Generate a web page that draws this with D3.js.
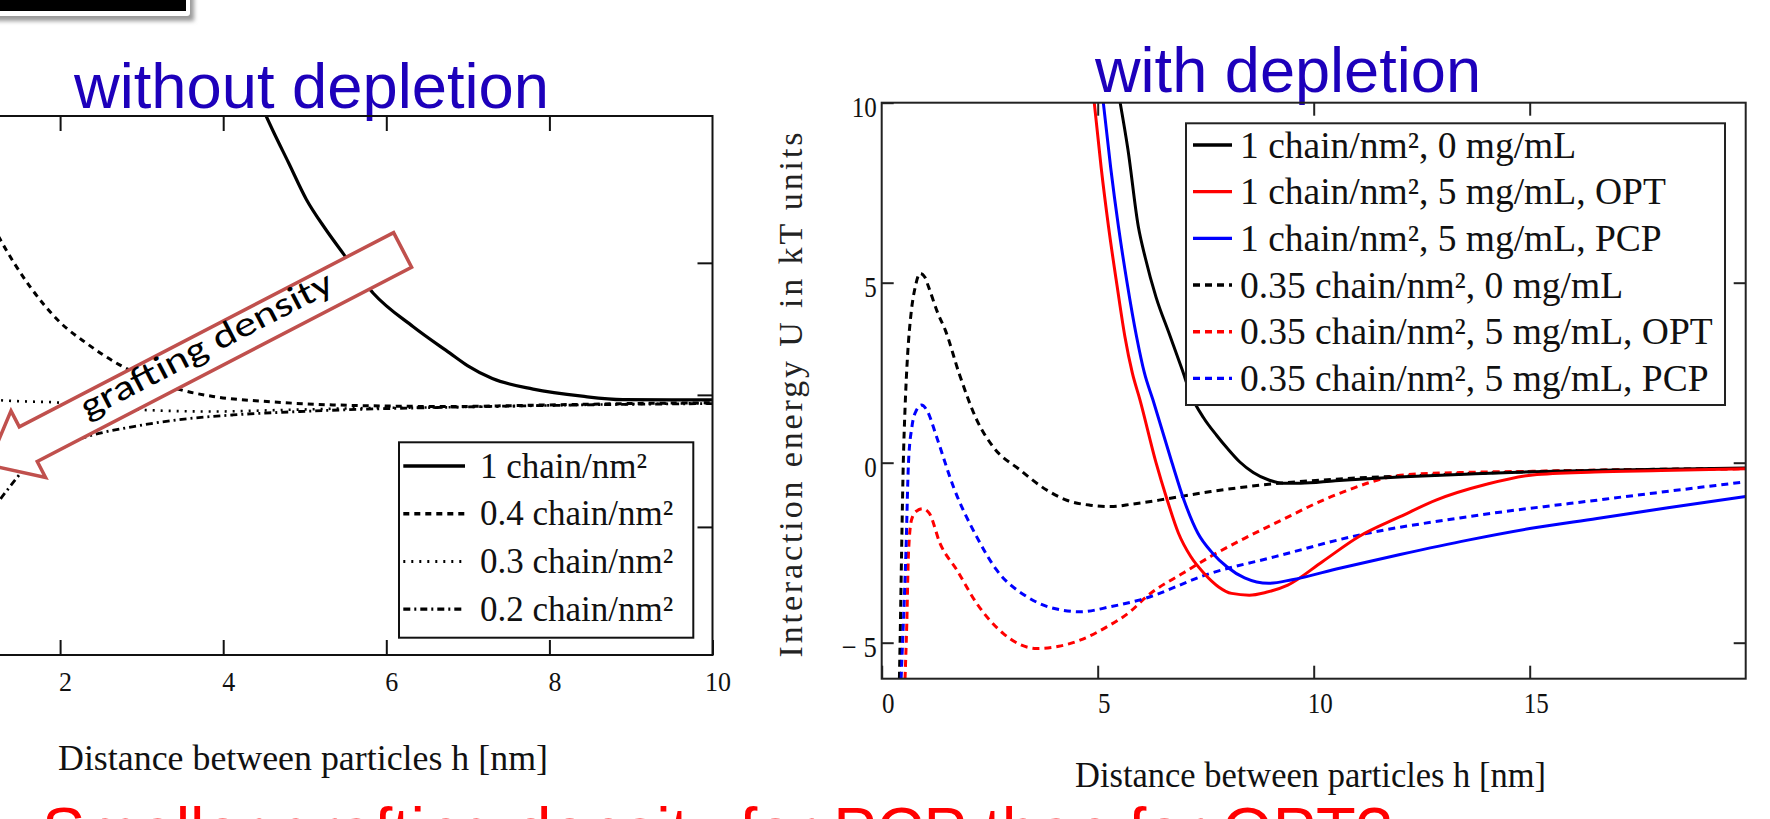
<!DOCTYPE html>
<html><head><meta charset="utf-8">
<script src="https://cdn.jsdelivr.net/npm/d3@7"></script>
<style>
body{margin:0;background:#fff;overflow:hidden}
svg{display:block}
</style>
</head><body>
<svg id="c" width="1770" height="819"></svg>
<script>
// ---------------- DATA ----------------
// Left chart: without depletion (x: distance h [nm], y: U in kT)
const leftNames = ["1 chain/nm²", "0.4 chain/nm²", "0.3 chain/nm²", "0.2 chain/nm²"];
const left_1 = [[4.52,10.6],[4.61,10],[4.8,8.8],[5.02,7.4],[5.25,6.3],[5.47,5.36],[5.84,3.85],[6.33,2.58],[6.78,1.58],[7.0,1.1],[7.3,0.62],[7.8,0.22],[8.4,-0.05],[8.9,-0.18],[9.5,-0.19],[10,-0.19]];
const left_04 = [[0.6,10.6],[0.8,8.9],[1.0,7.5],[1.263,5.9],[1.631,4.1],[1.999,2.75],[2.326,1.95],[2.694,1.2],[3.102,0.6],[3.47,0.2],[3.875,-0.06],[4.537,-0.25],[5.346,-0.38],[6.744,-0.44],[8.0,-0.38],[9.2,-0.32],[10,-0.3]];
const left_03 = [[0.8,0.8],[1.0,0.2],[1.263,-0.2],[1.6,-0.25],[1.917,-0.28],[2.5,-0.45],[3.02,-0.57],[3.88,-0.63],[4.74,-0.57],[5.76,-0.5],[6.74,-0.47],[8.0,-0.4],[9.2,-0.34],[10,-0.31]];
const left_02 = [[0.8,-6.8],[1.0,-5.3],[1.263,-3.97],[1.386,-3.47],[1.59,-2.71],[1.794,-2.21],[2.08,-1.83],[2.49,-1.45],[2.9,-1.2],[3.43,-0.95],[4.12,-0.76],[4.94,-0.63],[5.76,-0.54],[6.74,-0.47],[8,-0.4],[9.2,-0.35],[10,-0.33]];
const leftXTicks = [2,4,6,8,10];
const leftYTicks = [-5,0,5];

// Right chart: with depletion
const rightNames = ["1 chain/nm², 0 mg/mL","1 chain/nm², 5 mg/mL, OPT","1 chain/nm², 5 mg/mL, PCP",
                    "0.35 chain/nm², 0 mg/mL","0.35 chain/nm², 5 mg/mL, OPT","0.35 chain/nm², 5 mg/mL, PCP"];
const r_1_0 = [[5.52,10],[5.7,8.7],[5.94,6.56],[6.1,5.7],[6.35,4.6],[6.65,3.6],[6.95,2.6],[7.17,1.85],[7.45,1.25],[7.76,0.75],[8.0,0.4],[8.29,0.02],[8.6,-0.27],[8.96,-0.48],[9.3,-0.57],[9.7,-0.57],[10.5,-0.5],[12.1,-0.39],[13.5,-0.32],[15.07,-0.25],[17,-0.2],[20,-0.15]];
const r_1_opt = [[4.92,10],[5.08,8.2],[5.25,6.56],[5.45,4.9],[5.63,3.5],[5.8,2.5],[5.98,1.74],[6.35,0],[6.6,-1.0],[6.87,-1.96],[7.15,-2.6],[7.46,-3.07],[7.8,-3.45],[8.1,-3.63],[8.51,-3.68],[8.9,-3.6],[9.4,-3.4],[10.2,-2.75],[11.05,-2.05],[12.0,-1.5],[12.83,-1.04],[14,-0.6],[15.07,-0.34],[16.5,-0.26],[18.05,-0.22],[20,-0.17]];
const r_1_pcp = [[5.13,10],[5.3,8.2],[5.48,6.56],[5.68,5.0],[5.9,3.5],[6.08,2.5],[6.28,1.74],[6.72,0],[7.0,-1.05],[7.32,-1.96],[7.65,-2.5],[7.99,-2.89],[8.4,-3.2],[8.96,-3.35],[9.5,-3.25],[10.6,-2.93],[12,-2.55],[13.57,-2.15],[15,-1.83],[16.56,-1.55],[18.2,-1.25],[20,-0.94]];
const r_035_0 = [[0.41,-6],[0.44,-4],[0.46,-2.52],[0.5,0],[0.54,1.5],[0.6,3.0],[0.68,4.15],[0.78,4.9],[0.89,5.26],[1.0,5.15],[1.08,4.9],[1.3,4.15],[1.47,3.69],[1.8,2.45],[2.2,1.19],[2.58,0.44],[3.2,-0.2],[3.82,-0.76],[4.3,-1.05],[4.82,-1.18],[5.3,-1.22],[5.8,-1.15],[6.42,-1.04],[7.62,-0.8],[8.8,-0.62],[10.6,-0.45],[12.1,-0.37],[15,-0.25],[20,-0.16]];
const r_035_opt = [[0.54,-6],[0.58,-4.5],[0.62,-2.52],[0.69,-1.59],[0.8,-1.35],[0.95,-1.28],[1.1,-1.4],[1.35,-2.24],[1.74,-2.98],[2.2,-3.91],[2.81,-4.74],[3.2,-5.05],[3.59,-5.16],[4.1,-5.1],[4.59,-4.93],[5.21,-4.56],[5.75,-4.14],[6.13,-3.72],[7.0,-3.05],[7.62,-2.6],[8.4,-2.1],[9.11,-1.68],[10.6,-0.85],[12.09,-0.34],[13.5,-0.27],[15.07,-0.24],[17,-0.2],[20,-0.17]];
const r_035_pcp = [[0.45,-6],[0.5,-4.5],[0.56,-2.52],[0.62,0],[0.7,1.0],[0.8,1.45],[0.92,1.6],[1.05,1.45],[1.27,0.72],[1.66,-0.67],[2.2,-2.06],[2.66,-2.98],[3.36,-3.72],[3.9,-4.02],[4.6,-4.14],[5.3,-4.0],[5.98,-3.81],[7.62,-3.07],[9.11,-2.61],[10.9,-2.05],[13.57,-1.5],[16.56,-1.04],[20,-0.53]];
const rightXTicks = [0,5,10,15];
const rightYTicks = [-5,0,5,10];

// annotation arrow (in left-chart data units): tail centre and tip
const arrowTail = [6.2, 5.49];
const arrowTip = [1.12, -2.65];

// ---------------- DRAW ----------------
const svg = d3.select("#c");
const defs = svg.append("defs");
defs.append("filter").attr("id","sh").append("feGaussianBlur").attr("stdDeviation",2);

const serif = "'Liberation Serif','Times New Roman',serif";
const sans = "'Liberation Sans',Arial,sans-serif";

// top-left black box
svg.append("rect").attr("x",-20).attr("y",-20).attr("width",214).attr("height",41).attr("fill","#9a9a9a").attr("filter","url(#sh)");
svg.append("rect").attr("x",-20).attr("y",-20).attr("width",210).attr("height",36).attr("fill","#fff").attr("rx",3);
svg.append("rect").attr("x",-20).attr("y",-20).attr("width",206).attr("height",31).attr("fill","#000");

// titles
const titleColor = "#1d00bb";
svg.append("text").attr("x",74).attr("y",108).attr("font-family",sans).attr("font-size",63)
  .attr("fill",titleColor).attr("textLength",475).attr("lengthAdjust","spacingAndGlyphs").text("without depletion");
svg.append("text").attr("x",1095).attr("y",92).attr("font-family",sans).attr("font-size",63)
  .attr("fill",titleColor).attr("textLength",386).attr("lengthAdjust","spacingAndGlyphs").text("with depletion");

// ============ LEFT CHART ============
const xL = d3.scaleLinear().domain([0,10]).range([-103,712.5]);
const yL = d3.scaleLinear().domain([-9.85,10.56]).range([655,116]);
const gL = svg.append("g");
defs.append("clipPath").attr("id","clipL").append("rect")
  .attr("x",xL(0)).attr("y",yL(10.56)).attr("width",xL(10)-xL(0)).attr("height",yL(-9.85)-yL(10.56));

const lineL = d3.line().x(d=>xL(d[0])).y(d=>yL(d[1])).curve(d3.curveMonotoneX);
const leftSeries = [
  {d:left_1, dash:null, w:3.2},
  {d:left_04, dash:"6,5", w:3},
  {d:left_03, dash:"2,6", w:2.6},
  {d:left_02, dash:"7,4,2,4", w:2.8}
];
const curvesL = gL.append("g").attr("clip-path","url(#clipL)");
leftSeries.forEach(s=>{
  curvesL.append("path").attr("d",lineL(s.d)).attr("fill","none").attr("stroke","#000")
    .attr("stroke-width",s.w).attr("stroke-dasharray",s.dash);
});

// frame + ticks
gL.append("rect").attr("x",xL(0)).attr("y",yL(10.56)).attr("width",xL(10)-xL(0)).attr("height",yL(-9.85)-yL(10.56))
  .attr("fill","none").attr("stroke","#111").attr("stroke-width",2);
const axBL = gL.append("g").attr("transform",`translate(0,${yL(-9.85)})`)
  .call(d3.axisBottom(xL).tickValues(leftXTicks).tickSizeInner(-15).tickSizeOuter(0).tickPadding(17));
const axTL = gL.append("g").attr("transform",`translate(0,${yL(10.56)})`)
  .call(d3.axisTop(xL).tickValues(leftXTicks.slice(0,4)).tickSizeInner(-15).tickSizeOuter(0).tickFormat(""));
const axRL = gL.append("g").attr("transform",`translate(${xL(10)},0)`)
  .call(d3.axisRight(yL).tickValues(leftYTicks).tickSizeInner(-15).tickSizeOuter(0).tickFormat(""));
[axBL,axTL,axRL].forEach(a=>{a.select(".domain").remove(); a.selectAll("line").attr("stroke","#111").attr("stroke-width",2);});
axBL.selectAll("text").attr("font-family",serif).attr("font-size",27).attr("fill","#111")
  .attr("dx",5).attr("textLength",d=>String(d).length*13).attr("lengthAdjust","spacingAndGlyphs");

// arrow annotation
(function(){
  const t = [xL(arrowTail[0]), yL(arrowTail[1])];
  const p = [xL(arrowTip[0]), yL(arrowTip[1])];
  const L = Math.hypot(p[0]-t[0], p[1]-t[1]);
  const d = [(p[0]-t[0])/L, (p[1]-t[1])/L];
  const n = [d[1], -d[0]];
  const hw = 19.5, hh = 37.5, headLen = 45;
  const pt = (a,b)=>[t[0]+d[0]*a+n[0]*b, t[1]+d[1]*a+n[1]*b];
  const pts = [pt(0,-hw), pt(L-headLen,-hw), pt(L-headLen,-hh), pt(L,0), pt(L-headLen,hh), pt(L-headLen,hw), pt(0,hw)];
  gL.append("path").attr("d","M"+pts.map(q=>q.join(",")).join("L")+"Z")
    .attr("fill","#fff").attr("stroke","#c0504d").attr("stroke-width",3.5).attr("stroke-linejoin","miter");
  const c = pt(218, 5);
  const ang = Math.atan2(-d[1], -d[0]) * 180/Math.PI;
  gL.append("text").attr("transform",`translate(${c[0]},${c[1]}) rotate(${ang})`)
    .attr("text-anchor","middle").attr("font-family","Carlito,Calibri,Lato,'Open Sans',sans-serif")
    .attr("font-size",35).attr("fill","#000").attr("textLength",280).attr("lengthAdjust","spacingAndGlyphs")
    .text("grafting density");
})();

// left legend
const legL = gL.append("g");
legL.append("rect").attr("x",399).attr("y",442.3).attr("width",294.3).attr("height",195.4)
  .attr("fill","#fff").attr("stroke","#111").attr("stroke-width",2);
leftNames.forEach((nm,i)=>{
  const y = 466 + 47.7*i;
  legL.append("line").attr("x1",403.3).attr("x2",465).attr("y1",y).attr("y2",y)
    .attr("stroke","#000").attr("stroke-width",leftSeries[i].w+0.4).attr("stroke-dasharray",leftSeries[i].dash);
  legL.append("text").attr("x",480).attr("y",y+11.7).attr("font-family",serif).attr("font-size",35)
    .attr("fill","#111").text(nm);
});

svg.append("text").attr("x",58).attr("y",770).attr("font-family",serif).attr("font-size",36).attr("fill","#111")
  .attr("textLength",490).attr("lengthAdjust","spacingAndGlyphs").text("Distance between particles h [nm]");

// ============ RIGHT CHART ============
const xR = d3.scaleLinear().domain([0,20]).range([881.7,1745.7]);
const yR = d3.scaleLinear().domain([-6,10]).range([678.7,102.7]);
const gR = svg.append("g");
defs.append("clipPath").attr("id","clipR").append("rect")
  .attr("x",xR(0)).attr("y",yR(10)).attr("width",xR(20)-xR(0)).attr("height",yR(-6)-yR(10));
const lineR = d3.line().x(d=>xR(d[0])).y(d=>yR(d[1])).curve(d3.curveMonotoneX);
const rightSeries = [
  {d:r_1_0, c:"#000", dash:null},
  {d:r_1_opt, c:"#ff0000", dash:null},
  {d:r_1_pcp, c:"#0000ff", dash:null},
  {d:r_035_0, c:"#000", dash:"7,5"},
  {d:r_035_opt, c:"#ff0000", dash:"7,5"},
  {d:r_035_pcp, c:"#0000ff", dash:"7,5"}
];
const curvesR = gR.append("g").attr("clip-path","url(#clipR)");
[3,4,5,0,1,2].forEach(i=>{
  const s = rightSeries[i];
  curvesR.append("path").attr("d",lineR(s.d)).attr("fill","none").attr("stroke",s.c)
    .attr("stroke-width",3).attr("stroke-dasharray",s.dash);
});

gR.append("rect").attr("x",xR(0)).attr("y",yR(10)).attr("width",xR(20)-xR(0)).attr("height",yR(-6)-yR(10))
  .attr("fill","none").attr("stroke","#222").attr("stroke-width",2);
const axBR = gR.append("g").attr("transform",`translate(0,${yR(-6)})`)
  .call(d3.axisBottom(xR).tickValues(rightXTicks).tickSizeInner(-13).tickSizeOuter(0).tickPadding(13.5));
const axTR = gR.append("g").attr("transform",`translate(0,${yR(10)})`)
  .call(d3.axisTop(xR).tickValues(rightXTicks.slice(1)).tickSizeInner(-13).tickSizeOuter(0).tickFormat(""));
const axLR = gR.append("g").attr("transform",`translate(${xR(0)},0)`)
  .call(d3.axisLeft(yR).tickValues(rightYTicks).tickSizeInner(-12).tickSizeOuter(0).tickPadding(5)
    .tickFormat(d=> d<0 ? "− "+Math.abs(d) : String(d)));
const axRR = gR.append("g").attr("transform",`translate(${xR(20)},0)`)
  .call(d3.axisRight(yR).tickValues(rightYTicks.slice(0,3)).tickSizeInner(-12).tickSizeOuter(0).tickFormat(""));
[axBR,axTR,axLR,axRR].forEach(a=>{a.select(".domain").remove(); a.selectAll("line").attr("stroke","#222").attr("stroke-width",2);});
axBR.selectAll("text").attr("font-family",serif).attr("font-size",30).attr("fill","#111")
  .attr("dx",6).attr("textLength",d=>String(d).length*12.5).attr("lengthAdjust","spacingAndGlyphs");
axLR.selectAll("text").attr("font-family",serif).attr("font-size",30).attr("fill","#111")
  .attr("dy","0.45em").attr("textLength",d=> d<0 ? 35 : String(d).length*12.5).attr("lengthAdjust","spacingAndGlyphs");

// right legend
const legR = gR.append("g");
legR.append("rect").attr("x",1186).attr("y",123.3).attr("width",539).attr("height",281.7)
  .attr("fill","#fff").attr("stroke","#222").attr("stroke-width",2);
rightNames.forEach((nm,i)=>{
  const y = 145 + 46.67*i;
  legR.append("line").attr("x1",1193).attr("x2",1232).attr("y1",y).attr("y2",y)
    .attr("stroke",rightSeries[i].c).attr("stroke-width",3.4).attr("stroke-dasharray",rightSeries[i].dash);
  legR.append("text").attr("x",1240).attr("y",y+12.5).attr("font-family",serif).attr("font-size",37.5)
    .attr("fill","#111").text(nm);
});

// right y label
svg.append("text").attr("transform","translate(802,395) rotate(-90)").attr("text-anchor","middle")
  .attr("font-family",serif).attr("font-size",34).attr("fill","#222")
  .attr("textLength",525).attr("lengthAdjust","spacing").text("Interaction energy U in kT units");

svg.append("text").attr("x",1075).attr("y",787).attr("font-family",serif).attr("font-size",35).attr("fill","#111")
  .attr("textLength",471).attr("lengthAdjust","spacingAndGlyphs").text("Distance between particles h [nm]");

// bottom red question (cut by the page edge, as in the source slide)
svg.append("text").attr("x",42).attr("y",853).attr("font-family",sans).attr("font-size",65).attr("fill","#ff0000")
  .text("Smaller grafting density for PCP than for OPT?");
</script>
</body></html>
